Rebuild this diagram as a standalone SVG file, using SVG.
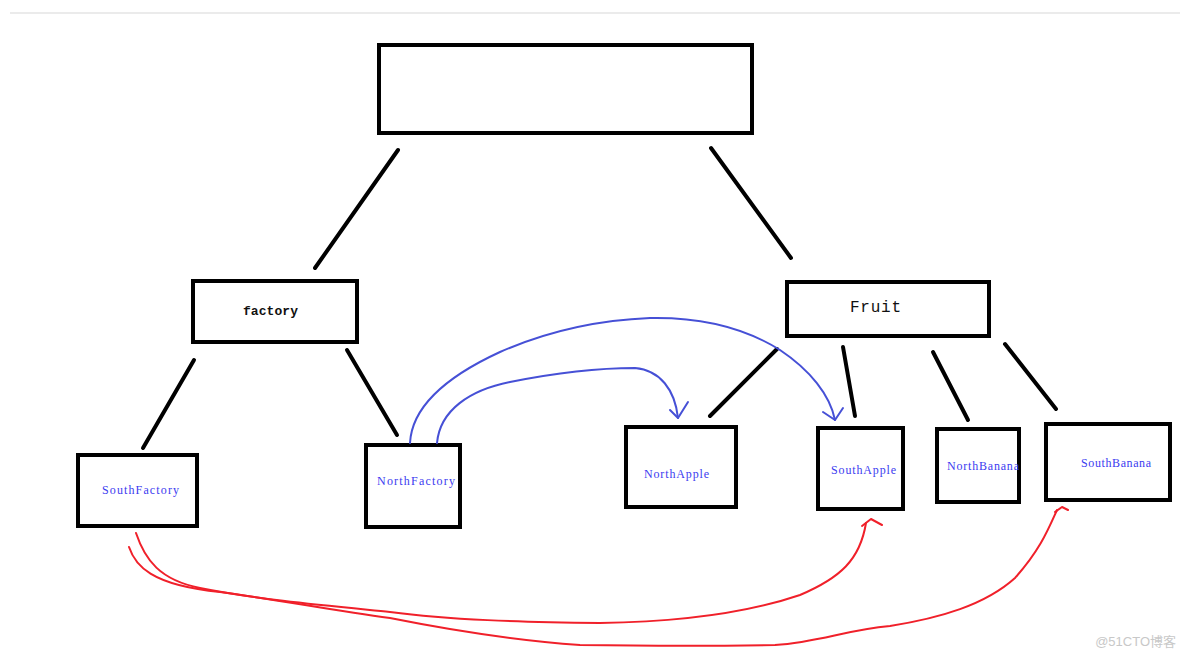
<svg xmlns="http://www.w3.org/2000/svg" width="1184" height="657" viewBox="0 0 1184 657">
<style>
.box{fill:#fff;stroke:#000;stroke-width:4}
.ln{stroke:#000;stroke-width:4;stroke-linecap:round;fill:none}
.blue{stroke:#4650d6;stroke-width:2;fill:none;stroke-linecap:round;stroke-linejoin:round}
.red{stroke:#f0202a;stroke-width:2;fill:none;stroke-linecap:round;stroke-linejoin:round}
.lbl{font-family:"Liberation Serif",serif;font-size:12px;fill:#3c3cf0;text-anchor:start}
.hd{font-family:"Liberation Mono",monospace;fill:#111;text-anchor:start}
</style>
<rect width="1184" height="657" fill="#fff"/>
<line x1="10" y1="13" x2="1180" y2="13" stroke="#ebebeb" stroke-width="2"/>
<g id="top"><rect class="box" x="379" y="45" width="373" height="88"/></g>
<g id="factory"><rect class="box" x="193" y="281" width="164" height="61"/><text class="hd" x="243" y="315" font-size="13" font-weight="bold" textLength="55">factory</text></g>
<g id="fruit"><rect class="box" x="787" y="282" width="202" height="54"/><text class="hd" x="850" y="312" font-size="16" textLength="51">Fruit</text></g>
<g id="southfactory"><rect class="box" x="78" y="455" width="119" height="71"/><text class="lbl" x="102" y="494" textLength="77">SouthFactory</text></g>
<g id="northfactory"><rect class="box" x="366" y="445" width="94" height="82"/><text class="lbl" x="377" y="485" textLength="78">NorthFactory</text></g>
<g id="northapple"><rect class="box" x="626" y="427" width="110" height="80"/><text class="lbl" x="644" y="478" textLength="65">NorthApple</text></g>
<g id="southapple"><rect class="box" x="818" y="428" width="85" height="81"/><text class="lbl" x="831" y="474" textLength="65">SouthApple</text></g>
<g id="northbanana"><rect class="box" x="937" y="429" width="82" height="73"/><text class="lbl" x="947" y="470" textLength="72">NorthBanana</text></g>
<g id="southbanana"><rect class="box" x="1046" y="424" width="124" height="76"/><text class="lbl" x="1081" y="467" textLength="70">SouthBanana</text></g>
<g id="connectors">
<line class="ln" x1="398" y1="150" x2="315" y2="268"/>
<line class="ln" x1="711" y1="148" x2="791" y2="258"/>
<line class="ln" x1="194" y1="360" x2="143" y2="448"/>
<line class="ln" x1="347" y1="350" x2="397" y2="435"/>
<line class="ln" x1="777" y1="349" x2="710" y2="416"/>
<line class="ln" x1="843" y1="347" x2="855" y2="416"/>
<line class="ln" x1="933" y1="352" x2="968" y2="420"/>
<line class="ln" x1="1005" y1="344" x2="1056" y2="409"/>
<path class="blue" d="M410,443 C412,405 450,375 500,352 C550,330 600,320 650,318 C700,317 745,328 780,350 C810,370 830,395 835,420"/>
<path class="blue" d="M823,412 L835,420 L843,408"/>
<path class="blue" d="M437,443 C440,410 470,390 510,382 C560,372 600,368 635,368 C660,370 675,390 678,418"/>
<path class="blue" d="M670,410 L678,418 L688,402"/>
<path class="red" d="M136,533 C145,560 160,580 200,588 C260,600 330,606 390,612 C450,620 520,622 600,623 C680,622 750,612 800,595 C840,578 860,560 866,523"/>
<path class="red" d="M862,526 L871,519 L882,525"/>
<path class="red" d="M129,547 C135,565 150,585 220,592 C280,600 330,610 390,618 C450,630 510,640 580,645 C650,646 720,646 775,645 C820,642 845,630 890,626 C940,618 985,605 1015,578 C1040,550 1048,530 1057,510"/>
<path class="red" d="M1055,512 L1062,507 L1068,510"/>
</g>
<text x="1176" y="646" font-family="'Liberation Sans','Noto Sans CJK SC',sans-serif" font-size="13" fill="#c8c8c8" text-anchor="end">@51CTO博客</text>
</svg>
